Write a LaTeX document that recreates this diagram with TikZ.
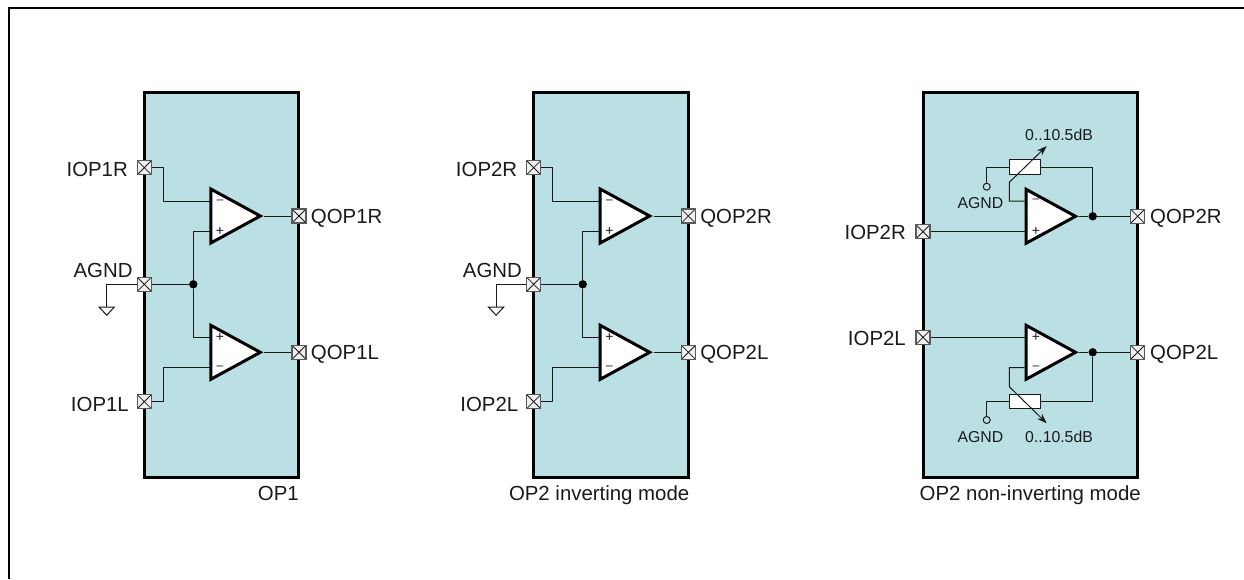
\documentclass[tikz,border=0pt]{standalone}
\usepackage{fontspec}
\setmainfont{Liberation Sans}
\usetikzlibrary{shapes.geometric,arrows.meta}
\definecolor{blockteal}{HTML}{BAE0E3}
\definecolor{ink}{HTML}{1A1A1A}
\begin{document}
\begin{tikzpicture}[x=1pt, y=-1pt,
		block/.style={rectangle, draw=black, fill=blockteal, line width=3pt, minimum width=154.4pt, minimum height=385pt, inner sep=0pt},
		pin/.style={rectangle, draw=black!65, fill=black!6, line width=1.1pt, minimum size=14pt, inner sep=0pt,
			path picture={\draw[line width=0.8pt, ink] (path picture bounding box.north west) -- (path picture bounding box.south east) (path picture bounding box.north east) -- (path picture bounding box.south west);}},
		opamp/.style={isosceles triangle, isosceles triangle stretches, draw=black, fill=white, line width=3pt, minimum width=54pt, minimum height=49.5pt, inner sep=0pt, anchor=lower side},
		res/.style={rectangle, draw=ink, fill=white, line width=1pt, minimum width=31pt, minimum height=14.5pt, inner sep=0pt},
		gnd/.style={isosceles triangle, isosceles triangle stretches, shape border rotate=270, draw=ink, fill=white, line width=1pt, minimum width=15pt, minimum height=8pt, inner sep=0pt, anchor=lower side},
		dot/.style={circle, fill=black, minimum size=8.4pt, inner sep=0pt},
		tap/.style={circle, draw=ink, fill=blockteal, line width=1pt, minimum size=7pt, inner sep=0pt},
		wire/.style={draw=ink, line width=1pt},
		lbl/.style={inner sep=0pt, font=\fontsize{20.4}{24}\selectfont, text=ink},
		small/.style={inner sep=0pt, font=\fontsize{15.8}{19}\selectfont, text=ink},
		sign/.style={inner sep=0pt, text=ink},
		signm/.style={sign, font=\fontsize{12}{14}\selectfont},
		signp/.style={sign, font=\fontsize{14}{16}\selectfont}
		]
	\useasboundingbox (0,0) rectangle (1244,579);
	
	% Frame
	\coordinate (framea) at (9.3,579);
	\coordinate (frameb) at (1244,8.2);
	\draw[line width=2pt] (framea) |- (frameb);
	
	% Blocks
	\node[block] (block1) at (221.5,284.8) {};
	\node[block] (block2) at (610.9,284.8) {};
	\node[block, minimum width=214.4pt] (block3) at (1030.2,284.8) {};
	
	% Pins
	\node[pin] (iopr1) at (144.3,167.7) {};
	\node[pin] (agnd1) at (144.3,284.3) {};
	\node[pin] (iopl1) at (144.3,401.7) {};
	\node[pin] (qopr1) at (299,216) {};
	\node[pin] (qopl1) at (299,352.3) {};
	
	\node[pin] (iopr2) at (533.7,167.7) {};
	\node[pin] (agnd2) at (533.7,284.3) {};
	\node[pin] (iopl2) at (533.7,401.7) {};
	\node[pin] (qopr2) at (688.4,216) {};
	\node[pin] (qopl2) at (688.4,352.3) {};
	
	\node[pin] (iopr3) at (923,231.7) {};
	\node[pin] (iopl3) at (923,337.3) {};
	\node[pin] (qopr3) at (1137.7,216.3) {};
	\node[pin] (qopl3) at (1137.7,352.3) {};
	
	% Amplifiers
	\node[opamp] (ampr1) at (209.3,216) {};
	\node[opamp] (ampl1) at (209.3,352.3) {};
	\node[opamp] (ampr2) at (598.7,216) {};
	\node[opamp] (ampl2) at (598.7,352.3) {};
	\node[opamp] (ampr3) at (1024.5,216.3) {};
	\node[opamp] (ampl3) at (1024.5,352.3) {};
	
	% Inputs of the amplifiers
	\coordinate (minr1) at (209.5,201.3);
	\coordinate (plur1) at (209.5,231.7);
	\coordinate (plul1) at (209.5,337.3);
	\coordinate (minl1) at (209.5,367.7);
	\coordinate (minr2) at (598.9,201.3);
	\coordinate (plur2) at (598.9,231.7);
	\coordinate (plul2) at (598.9,337.3);
	\coordinate (minl2) at (598.9,367.7);
	\coordinate (minr3) at (1024.5,201);
	\coordinate (plur3) at (1024.5,231.7);
	\coordinate (plul3) at (1024.5,337.3);
	\coordinate (minl3) at (1024.5,367.7);
	
	% Signs
	\node[signm] (sminr1) at (220,201.3) {–};
	\node[signp] (splur1) at (220,231.7) {+};
	\node[signp] (splul1) at (220,337.3) {+};
	\node[signm] (sminl1) at (220,367.7) {–};
	\node[signm] (sminr2) at (609.4,201.3) {–};
	\node[signp] (splur2) at (609.4,231.7) {+};
	\node[signp] (splul2) at (609.4,337.3) {+};
	\node[signm] (sminl2) at (609.4,367.7) {–};
	\node[signm] (sminr3) at (1036,201) {–};
	\node[signp] (splur3) at (1036,231.7) {+};
	\node[signp] (splul3) at (1036,337.3) {+};
	\node[signm] (sminl3) at (1036,367.7) {–};
	
	% Other parts
	\node[dot] (jct1) at (193.3,284.3) {};
	\node[dot] (jct2) at (582.7,284.3) {};
	\node[dot] (jctr3) at (1092.7,216.3) {};
	\node[dot] (jctl3) at (1092.7,352.3) {};
	\node[gnd] (gnd1) at (106.7,306.7) {};
	\node[gnd] (gnd2) at (496.1,306.7) {};
	\node[res] (resr3) at (1024.8,167.2) {};
	\node[res] (resl3) at (1024.8,401.7) {};
	\node[tap] (tapr3) at (986.7,186.7) {};
	\node[tap] (tapl3) at (986.7,420) {};
	
	\coordinate (bendr1) at (163.3,201.3);
	\coordinate (bendl1) at (163.3,367.7);
	\coordinate (bendr2) at (552.7,201.3);
	\coordinate (bendl2) at (552.7,367.7);
	\coordinate (wipr3) at (1009.3,182.3);
	\coordinate (wipl3) at (1009.3,386.7);
	\coordinate (arrr3) at (1046.7,146);
	\coordinate (arrl3) at (1046.7,423.3);
	
	% Wires
	\draw[wire] (iopr1.east) -| (bendr1) -- (minr1);
	\draw[wire] (iopl1.east) -| (bendl1) -- (minl1);
	\draw[wire] (agnd1.east) -- (jct1);
	\draw[wire] (jct1) |- (plur1);
	\draw[wire] (jct1) |- (plul1);
	\draw[wire] (agnd1.west) -| (gnd1.lower side);
	\draw[wire] (ampr1.apex) -- (qopr1.west);
	\draw[wire] (ampl1.apex) -- (qopl1.west);
	
	\draw[wire] (iopr2.east) -| (bendr2) -- (minr2);
	\draw[wire] (iopl2.east) -| (bendl2) -- (minl2);
	\draw[wire] (agnd2.east) -- (jct2);
	\draw[wire] (jct2) |- (plur2);
	\draw[wire] (jct2) |- (plul2);
	\draw[wire] (agnd2.west) -| (gnd2.lower side);
	\draw[wire] (ampr2.apex) -- (qopr2.west);
	\draw[wire] (ampl2.apex) -- (qopl2.west);
	
	\draw[wire] (iopr3.east) -- (plur3);
	\draw[wire] (iopl3.east) -- (plul3);
	\draw[wire] (ampr3.apex) -- (jctr3) -- (qopr3.west);
	\draw[wire] (ampl3.apex) -- (jctl3) -- (qopl3.west);
	\draw[wire] (resr3.east) -| (jctr3);
	\draw[wire] (resl3.east) -| (jctl3);
	\draw[wire] (resr3.west) -| (tapr3);
	\draw[wire] (resl3.west) -| (tapl3);
	\draw[wire, -{Stealth[length=10pt,width=7pt]}] (minr3) -| (wipr3) -- (arrr3);
	\draw[wire, -{Stealth[length=10pt,width=7pt]}] (minl3) -| (wipl3) -- (arrl3);
	
	% Labels
	\node[lbl, anchor=base east] (liopr1) at (128,176) {IOP1R};
	\node[lbl, anchor=base east] (lagnd1) at (132.7,277.7) {AGND};
	\node[lbl, anchor=base east] (liopl1) at (129,411.7) {IOP1L};
	\node[lbl, anchor=base west] (lqopr1) at (310.7,223.3) {QOP1R};
	\node[lbl, anchor=base west] (lqopl1) at (310.7,359.6) {QOP1L};
	\node[lbl, anchor=base east] (lop1) at (299,500.7) {OP1};
	
	\node[lbl, anchor=base east] (liopr2) at (517.4,176) {IOP2R};
	\node[lbl, anchor=base east] (lagnd2) at (522.1,277.7) {AGND};
	\node[lbl, anchor=base east] (liopl2) at (518.4,411.7) {IOP2L};
	\node[lbl, anchor=base west] (lqopr2) at (700.1,223.3) {QOP2R};
	\node[lbl, anchor=base west] (lqopl2) at (700.1,359.6) {QOP2L};
	\node[lbl, anchor=base east] (lop2) at (689.5,500.7) {OP2 inverting mode};
	
	\node[lbl, anchor=base east] (liopr3) at (906,239.3) {IOP2R};
	\node[lbl, anchor=base east] (liopl3) at (906,345) {IOP2L};
	\node[lbl, anchor=base west] (lqopr3) at (1150,223.3) {QOP2R};
	\node[lbl, anchor=base west] (lqopl3) at (1150,359.6) {QOP2L};
	\node[lbl, anchor=base east] (lop3) at (1141,500.7) {OP2 non-inverting mode};
	
	\node[small, anchor=base west] (lagndr3) at (957.3,208.3) {AGND};
	\node[small, anchor=base west] (lagndl3) at (957.3,442.7) {AGND};
	\node[small, anchor=base west] (lgainr3) at (1025,140.7) {0..10.5dB};
	\node[small, anchor=base west] (lgainl3) at (1025,442.7) {0..10.5dB};
\end{tikzpicture}
\end{document}
